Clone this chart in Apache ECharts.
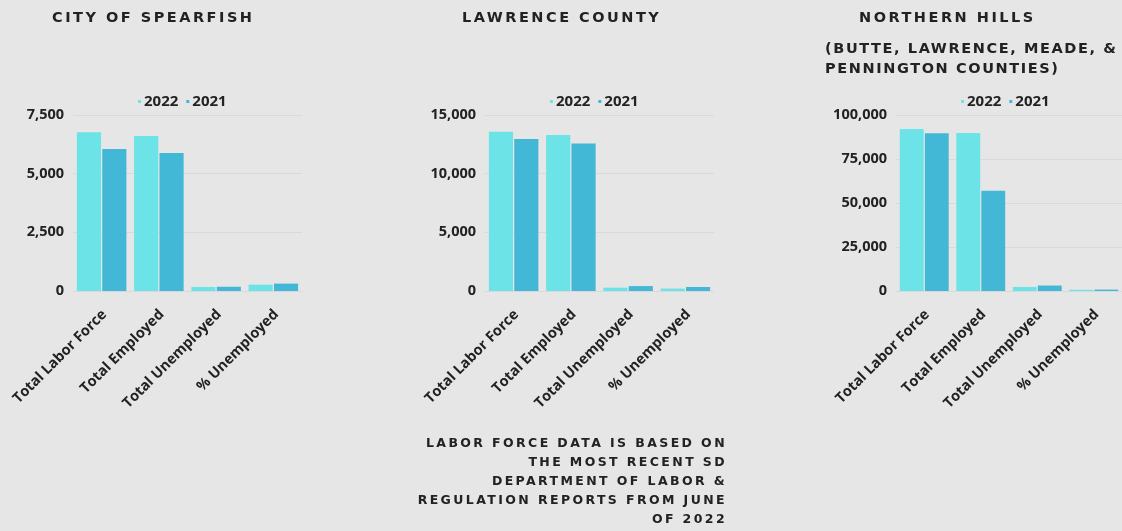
<!DOCTYPE html>
<html>
<head>
<meta charset="utf-8">
<script src="https://cdn.jsdelivr.net/npm/echarts@6/dist/echarts.min.js"></script>
<style>
  html, body { margin:0; padding:0; background:#e6e6e6; }
  #wrap { position:relative; width:1122px; height:531px; overflow:hidden; }
  #chart { position:absolute; left:0; top:0; width:1122px; height:531px; }
  .ttl { position:absolute; font-family:"DejaVu Sans", sans-serif; font-weight:bold; color:#222; white-space:nowrap; }
  .hd { font-size:14.5px; letter-spacing:2.5px; line-height:20px; }
</style>
</head>
<body>
<div id="wrap">
  <div id="chart"></div>
  <div class="ttl hd" style="left:52px; top:7px;">CITY OF SPEARFISH</div>
  <div class="ttl hd" style="left:462px; top:7px;">LAWRENCE COUNTY</div>
  <div class="ttl hd" style="left:859px; top:7px;">NORTHERN HILLS</div>
  <div class="ttl hd" style="left:825px; top:38px; letter-spacing:1.6px;">(BUTTE, LAWRENCE, MEADE, &amp;<br>PENNINGTON COUNTIES)</div>
  <div class="ttl" style="right:395px; top:433px; font-size:12.5px; letter-spacing:2.4px; line-height:19px; text-align:right;">LABOR FORCE DATA IS BASED ON<br>THE MOST RECENT SD<br>DEPARTMENT OF LABOR &amp;<br>REGULATION REPORTS FROM JUNE<br>OF 2022</div>
</div>
<script>
const categories = ['Total Labor Force', 'Total Employed', 'Total Unemployed', '% Unemployed'];
const seriesNames = ['2022', '2021'];

const spearfish2022 = [6760, 6600, 170, 270];
const spearfish2021 = [6050, 5880, 180, 315];
const lawrence2022 = [13570, 13290, 285, 205];
const lawrence2021 = [12950, 12580, 420, 340];
const northernHills2022 = [92000, 89800, 2300, 700];
const northernHills2021 = [89700, 56900, 3100, 800];

const yMax = [7500, 15000, 100000];
const yInterval = [2500, 5000, 25000];

const color2022 = '#6ce4e7';
const color2021 = '#42b8d6';

const panels = [
  { d22: spearfish2022, d21: spearfish2021, left: 73 },
  { d22: lawrence2022, d21: lawrence2021, left: 485 },
  { d22: northernHills2022, d21: northernHills2021, left: 896 }
];

const labelFont = { fontFamily: '"Open Sans", sans-serif', fontWeight: 'bold', color: '#222' };

const option = {
  backgroundColor: '#e6e6e6',
  animation: false,
  legend: panels.map((p, i) => ({
    data: seriesNames.map(n => ({ name: n })),
    left: p.left + 60,
    top: 89,
    orient: 'horizontal',
    itemWidth: 3,
    itemHeight: 3,
    itemGap: 8,
    icon: 'rect',
    selectedMode: false,
    textStyle: Object.assign({ fontSize: 15, padding: [0, 0, 0, -2] }, labelFont)
  })),
  grid: panels.map(p => ({ left: p.left, width: 229, top: 115, height: 176, containLabel: false })),
  xAxis: panels.map((p, i) => ({
    type: 'category',
    gridIndex: i,
    data: categories,
    axisLine: { show: false },
    axisTick: { show: false },
    axisLabel: Object.assign({ rotate: 45, fontSize: 14.5, margin: 24, interval: 0,
      padding: [7, -4, 0, 0] }, labelFont)
  })),
  yAxis: panels.map((p, i) => ({
    type: 'value',
    gridIndex: i,
    min: 0,
    max: yMax[i],
    interval: yInterval[i],
    axisLine: { show: false },
    axisTick: { show: false },
    splitLine: { lineStyle: { color: '#d9d9d9', width: 1 } },
    axisLabel: Object.assign({ fontSize: 14.5, margin: 9,
      formatter: v => v.toLocaleString('en-US') }, labelFont)
  })),
  series: []
};

panels.forEach((p, i) => {
  option.series.push({
    name: '2022', type: 'bar', xAxisIndex: i, yAxisIndex: i,
    data: p.d22, itemStyle: { color: color2022 },
    barGap: '5%', barCategoryGap: '13.5%'
  });
  option.series.push({
    name: '2021', type: 'bar', xAxisIndex: i, yAxisIndex: i,
    data: p.d21, itemStyle: { color: color2021 },
    barGap: '5%', barCategoryGap: '13.5%'
  });
});

const chart = echarts.init(document.getElementById('chart'));
chart.setOption(option);
</script>
</body>
</html>
